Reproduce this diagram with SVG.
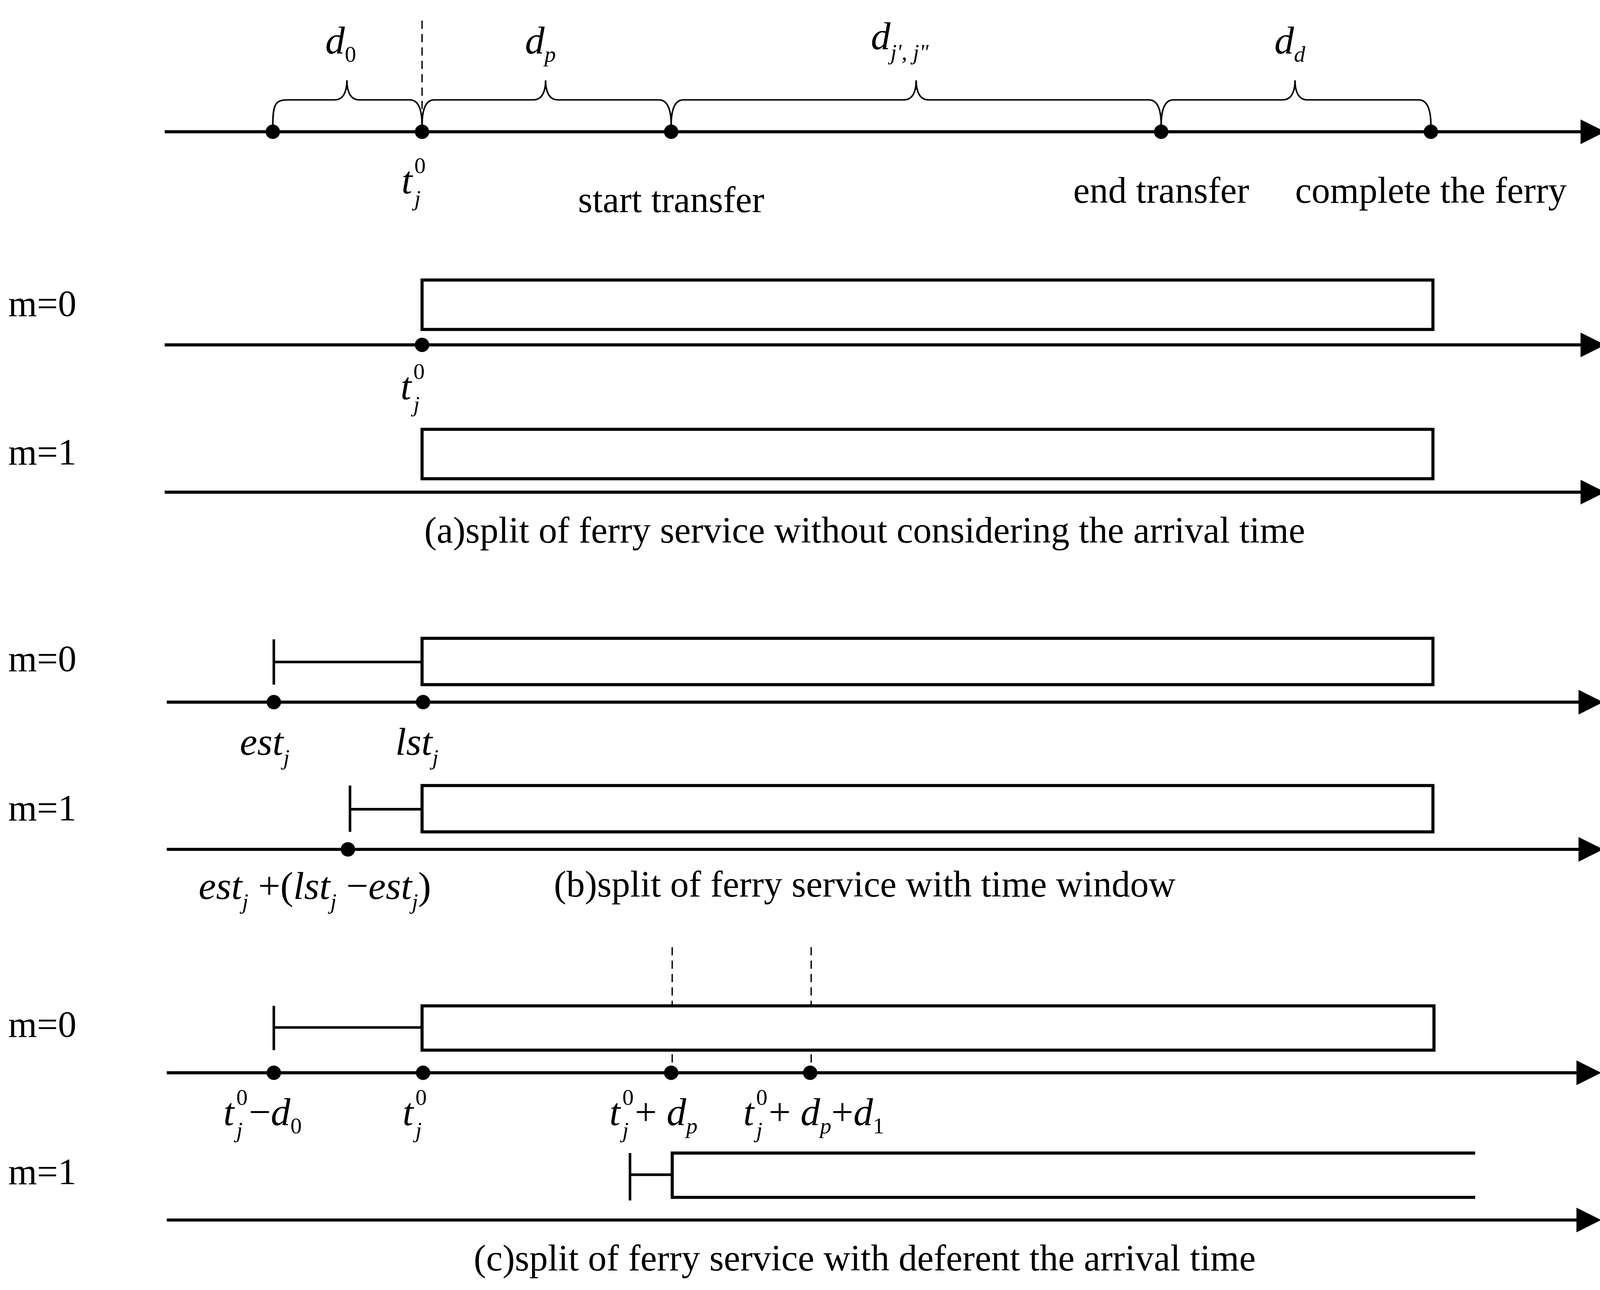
<svg xmlns="http://www.w3.org/2000/svg" width="4119" height="3302" viewBox="0 0 4119 3302">
<style>
.ax{stroke:#000;stroke-width:3;fill:none}
.bx{stroke:#000;stroke-width:3;fill:#fff}
.ln{stroke:#000;stroke-width:2.5;fill:none}
.br{stroke:#000;stroke-width:1.5;fill:none}
.ds{stroke:#000;stroke-width:1.3;stroke-dasharray:8,5;fill:none}
.t{font-family:"Liberation Serif",serif;font-size:36px;fill:#000}
.i{font-family:"Liberation Serif",serif;font-style:italic;font-size:38px;fill:#000}
.s{font-size:22px}
.u{font-style:normal}
</style>
<defs>
<marker id="ar" viewBox="0 0 10 10" refX="9" refY="5" markerWidth="28" markerHeight="24" markerUnits="userSpaceOnUse" orient="auto"><path d="M0,0L10,5L0,10z" fill="#000"/></marker>
</defs>
<rect width="4119" height="3302" fill="#fff"/>
<g transform="scale(2.6353)">
<g id="connectors">
<line class="ax" x1="160" y1="128" x2="1557" y2="128" marker-end="url(#ar)"/>
<line class="ax" x1="160" y1="335" x2="1557" y2="335" marker-end="url(#ar)"/>
<line class="ax" x1="160" y1="478" x2="1557" y2="478" marker-end="url(#ar)"/>
<line class="ax" x1="162" y1="682" x2="1555" y2="682" marker-end="url(#ar)"/>
<line class="ax" x1="162" y1="825" x2="1555" y2="825" marker-end="url(#ar)"/>
<line class="ax" x1="162" y1="1042" x2="1553" y2="1042" marker-end="url(#ar)"/>
<line class="ax" x1="162" y1="1185" x2="1553" y2="1185" marker-end="url(#ar)"/>
<line class="ds" x1="410" y1="20" x2="410" y2="128"/>
<line class="ds" x1="653" y1="920" x2="653" y2="1042"/>
<line class="ds" x1="788" y1="920" x2="788" y2="1042"/>
<path class="br" d="M265,122 C265,100 268,97 280,97 L325,97 C333,97 337,90 337,78 C337,90 341,97 349,97 L398,97 C406,97 410,105 410,122"/>
<path class="br" d="M410,122 C410,105 414,97 422,97 L518,97 C526,97 530,90 530,78 C530,90 534,97 542,97 L640,97 C648,97 652,105 652,122"/>
<path class="br" d="M652,122 C652,105 656,97 664,97 L878,97 C886,97 890,90 890,78 C890,90 894,97 902,97 L1116,97 C1124,97 1128,105 1128,122"/>
<path class="br" d="M1128,122 C1128,105 1132,97 1140,97 L1246,97 C1254,97 1258,90 1258,78 C1258,90 1262,97 1270,97 L1378,97 C1386,97 1390,105 1390,122"/>
</g>
<g id="dots" fill="#000">
<circle cx="265" cy="128" r="7"/><circle cx="410" cy="128" r="7"/><circle cx="652" cy="128" r="7"/><circle cx="1128" cy="128" r="7"/><circle cx="1390" cy="128" r="7"/>
<circle cx="410" cy="335" r="7"/>
<circle cx="266" cy="682" r="7"/><circle cx="411" cy="682" r="7"/>
<circle cx="338" cy="825" r="7"/>
<circle cx="266" cy="1042" r="7"/><circle cx="411" cy="1042" r="7"/><circle cx="652" cy="1042" r="7"/><circle cx="787" cy="1042" r="7"/>
</g>
<g id="top-labels">
<text class="i" x="316" y="52">d<tspan class="s u" dy="8">0</tspan></text>
<text class="i" x="510" y="52">d<tspan class="s" dy="8">p</tspan></text>
<text class="i" x="846" y="48">d<tspan class="s" dy="10">j', j"</tspan></text>
<text class="i" x="1238" y="52">d<tspan class="s" dy="8">d</tspan></text>
<text class="i" x="390" y="188">t<tspan class="s u" dx="2" dy="-20">0</tspan><tspan class="s" dx="-11" dy="32">j</tspan></text>
<text class="t" x="652" y="206" text-anchor="middle">start transfer</text>
<text class="t" x="1128" y="197" text-anchor="middle">end transfer</text>
<text class="t" x="1390" y="197" text-anchor="middle">complete the ferry</text>
</g>
<g id="section-a">
<text class="t" x="8" y="307">m=0</text>
<rect class="bx" x="410" y="272" width="982" height="48"/>
<text class="i" x="389" y="388">t<tspan class="s u" dx="2" dy="-20">0</tspan><tspan class="s" dx="-11" dy="32">j</tspan></text>
<text class="t" x="8" y="451">m=1</text>
<rect class="bx" x="410" y="417" width="982" height="48"/>
<text class="t" x="840" y="527" text-anchor="middle">(a)split of ferry service without considering the arrival time</text>
</g>
<g id="section-b">
<text class="t" x="8" y="652">m=0</text>
<line class="ln" x1="266" y1="621" x2="266" y2="665"/>
<line class="ln" x1="266" y1="643" x2="410" y2="643"/>
<rect class="bx" x="410" y="620" width="982" height="45"/>
<text class="i" x="233" y="733">est<tspan class="s" dy="10">j</tspan></text>
<text class="i" x="384" y="733">lst<tspan class="s" dy="10">j</tspan></text>
<text class="t" x="8" y="797">m=1</text>
<line class="ln" x1="340" y1="763" x2="340" y2="808"/>
<line class="ln" x1="340" y1="786" x2="410" y2="786"/>
<rect class="bx" x="410" y="763" width="982" height="45"/>
<text class="i" x="193" y="873">est<tspan class="s" dy="10">j</tspan><tspan class="u" dy="-10"> +(</tspan>lst<tspan class="s" dy="10">j</tspan><tspan class="u" dy="-10"> −</tspan>est<tspan class="s" dy="10">j</tspan><tspan class="u" dy="-10">)</tspan></text>
<text class="t" x="840" y="871" text-anchor="middle">(b)split of ferry service with time window</text>
</g>
<g id="section-c">
<text class="t" x="8" y="1007">m=0</text>
<line class="ln" x1="266" y1="977" x2="266" y2="1020"/>
<line class="ln" x1="266" y1="998" x2="410" y2="998"/>
<rect class="bx" x="410" y="977" width="983" height="43"/>
<text class="i" x="217" y="1093">t<tspan class="s u" dx="2" dy="-20">0</tspan><tspan class="s" dx="-11" dy="32">j</tspan><tspan class="u" dx="6" dy="-12">−</tspan>d<tspan class="s u" dy="8">0</tspan></text>
<text class="i" x="391" y="1093">t<tspan class="s u" dx="2" dy="-20">0</tspan><tspan class="s" dx="-11" dy="32">j</tspan></text>
<text class="i" x="592" y="1093">t<tspan class="s u" dx="2" dy="-20">0</tspan><tspan class="s" dx="-11" dy="32">j</tspan><tspan class="u" dx="6" dy="-12">+</tspan> d<tspan class="s" dy="8">p</tspan></text>
<text class="i" x="722" y="1093">t<tspan class="s u" dx="2" dy="-20">0</tspan><tspan class="s" dx="-11" dy="32">j</tspan><tspan class="u" dx="6" dy="-12">+</tspan> d<tspan class="s" dy="8">p</tspan><tspan class="u" dy="-8">+</tspan>d<tspan class="s u" dy="8">1</tspan></text>
<text class="t" x="8" y="1150">m=1</text>
<line class="ln" x1="612" y1="1120" x2="612" y2="1166"/>
<line class="ln" x1="612" y1="1141" x2="653" y2="1141"/>
<path class="ax" d="M1433,1120 L653,1120 L653,1163 L1433,1163"/>
<text class="t" x="840" y="1234" text-anchor="middle">(c)split of ferry service with deferent the arrival time</text>
</g>
</g>
</svg>
